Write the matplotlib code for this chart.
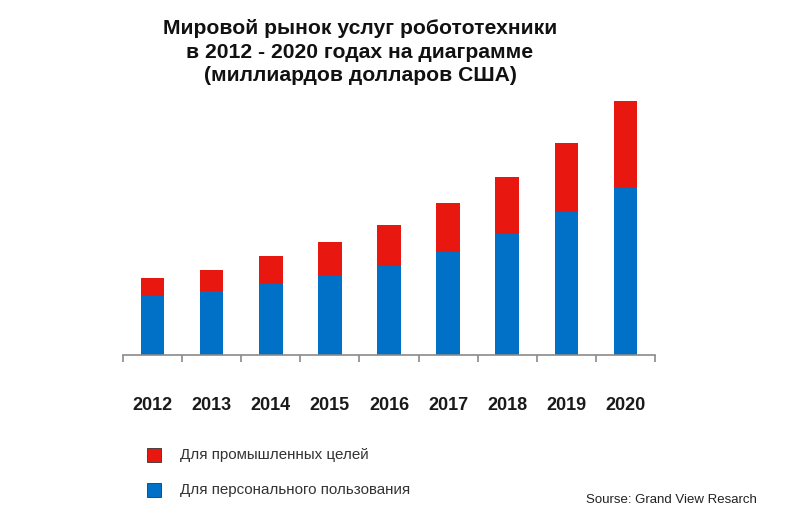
import numpy as np
import matplotlib.pyplot as plt
from matplotlib.patches import Rectangle

plt.rcParams['font.family'] = ['Liberation Sans', 'DejaVu Sans']

# === Data (billion USD) ===
years = ['2012', '2013', '2014', '2015', '2016', '2017', '2018', '2019', '2020']
personal = [5.93, 6.37, 7.13, 7.9, 8.93, 10.35, 12.1, 14.27, 16.73]
industrial = [1.77, 2.16, 2.77, 3.4, 4.07, 4.85, 5.7, 6.9, 8.67]

label_ind = 'Для промышленных целей'
label_pers = 'Для персонального пользования'
c_red = '#E8170F'
c_blue = '#0071C6'

fig = plt.figure(figsize=(7.98, 5.24), dpi=100)
ax = fig.add_axes([123/798, (524-355)/524, 532/798, 260/524])

x = np.arange(len(years))
ax.bar(x, personal, width=0.4, color=c_blue, linewidth=0)
ax.bar(x, industrial, width=0.4, bottom=personal, color=c_red, linewidth=0)

ax.set_xlim(-0.5, len(years) - 0.5)
ax.set_ylim(0, 26)
ax.set_yticks([])
for s in ['top', 'right', 'left']:
    ax.spines[s].set_visible(False)
ax.spines['bottom'].set_color('#8a8a8a')
ax.spines['bottom'].set_linewidth(1.2)

ax.set_xticks(x)
ax.set_xticklabels(years, fontsize=13, fontweight='bold', color='#1a1a1a')
ax.tick_params(axis='x', which='major', length=0, pad=30)
ax.set_xticks(np.arange(-0.5, len(years)), minor=True)
ax.tick_params(axis='x', which='minor', length=5, width=1.2, color='#8a8a8a', direction='out')

# === Title ===
fig.text(360/798, 1 - 52/524,
         'Мировой рынок услуг робототехники\nв 2012 - 2020 годах на диаграмме\n(миллиардов долларов США)',
         ha='center', va='center', fontsize=15.2, fontweight='bold', linespacing=1.32, color='#111111')

# === Legend ===
for yc, col, lab in [(455, c_red, label_ind), (490, c_blue, label_pers)]:
    fig.patches.append(Rectangle((147/798, 1 - (yc + 7)/524), 14/798, 14/524,
                                 transform=fig.transFigure, facecolor=col,
                                 edgecolor='#333333', linewidth=0.6))
    fig.text(180/798, 1 - yc/524, lab, ha='left', va='center', fontsize=10.9, color='#333333')

fig.text(757/798, 1 - 500/524, 'Sourse: Grand View Resarch', ha='right', va='center',
         fontsize=9.5, color='#222222')

plt.savefig('out.png', dpi=100)
